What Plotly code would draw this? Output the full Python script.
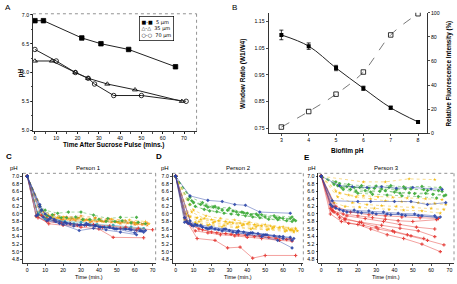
import plotly.graph_objects as go

W, H = 457, 284

# ---------------- Panel A data ----------------
A_t_5 = [0, 4, 22, 31, 44, 66]
A_ph_5 = [6.9, 6.9, 6.6, 6.5, 6.4, 6.1]
A_t_35 = [0, 8, 19, 25, 34, 47, 69]
A_ph_35 = [6.2, 6.2, 6.0, 5.9, 5.8, 5.7, 5.5]
A_t_70 = [0, 10, 19, 25, 28, 37, 50, 71]
A_ph_70 = [6.4, 6.2, 6.0, 5.9, 5.8, 5.6, 5.6, 5.5]
A_labels = ["5 µm", "35 µm", "70 µm"]
A_legend_glyphs = ["■-■", "△-△", "○-○"]

# ---------------- Panel B data ----------------
B_ph = [3, 4, 5, 6, 7, 8]
B_ratio = [1.100, 1.058, 0.976, 0.900, 0.827, 0.774]
B_ratio_err = [0.018, 0.012, 0.010, 0.008, 0.006, 0.005]
B_intensity = [5.1, 18.0, 32.4, 50.8, 81.6, 99.2]

# ---------------- Panel C data (Person 1) ----------------
C_green_t = [[0, 7, 10, 17, 23, 30, 37, 45, 52, 61],
             [0, 6, 11, 19, 27, 35, 44, 53, 62],
             [0, 8, 14, 22, 31, 40, 49, 58, 66]]
C_green_ph = [[7.0, 6.2, 6.1, 6.02, 6.05, 6.05, 5.97, 5.88, 5.91, 5.91],
              [7.0, 6.0, 5.95, 5.9, 5.92, 5.85, 5.8, 5.82, 5.78],
              [7.0, 6.1, 5.98, 5.9, 5.85, 5.86, 5.8, 5.76, 5.74]]
C_orange_t = [[0, 7, 12, 18, 25, 33, 41, 50, 59, 67],
              [0, 5, 10, 16, 24, 31, 39, 47, 56, 64],
              [0, 6, 13, 20, 28, 36, 44, 53, 62],
              [0, 9, 15, 22, 30, 38, 46, 55, 65],
              [0, 7, 11, 19, 27, 35, 43, 52, 60, 67]]
C_orange_ph = [[7.0, 6.05, 5.95, 5.9, 5.88, 5.85, 5.82, 5.8, 5.78, 5.76],
               [7.0, 5.92, 5.88, 5.86, 5.83, 5.84, 5.8, 5.78, 5.76, 5.72],
               [7.0, 6.0, 5.93, 5.85, 5.88, 5.8, 5.83, 5.79, 5.75],
               [7.0, 6.05, 5.98, 5.92, 5.95, 5.9, 5.86, 5.82, 5.74],
               [7.0, 5.98, 5.9, 5.85, 5.82, 5.78, 5.8, 5.75, 5.72, 5.7]]
C_yellow_t = [[0, 8, 12, 20, 29, 38, 47, 57, 66],
              [0, 6, 14, 23, 32, 41, 50, 60, 68],
              [0, 10, 17, 26, 34, 42, 51, 61]]
C_yellow_ph = [[7.0, 6.1, 5.96, 5.92, 5.9, 5.88, 5.86, 5.84, 5.8],
               [7.0, 5.95, 5.9, 5.87, 5.83, 5.82, 5.79, 5.77, 5.74],
               [7.0, 5.97, 5.9, 5.86, 5.84, 5.8, 5.77, 5.73]]
C_blue_t = [[0, 7, 10, 15, 22, 29, 33, 38, 43, 50, 60, 64],
            [0, 6, 12, 20, 29, 37, 44, 52, 61],
            [0, 8, 13, 21, 30, 38, 46, 55, 63],
            [0, 5, 11, 18, 26, 34, 41, 49, 58, 65],
            [0, 7, 9, 16, 24, 32, 40, 48, 57, 66]]
C_blue_ph = [[7.0, 6.25, 6.0, 5.85, 5.75, 5.7, 5.75, 5.7, 5.65, 5.6, 5.5, 5.55],
             [7.0, 5.98, 5.85, 5.72, 5.56, 5.62, 5.58, 5.52, 5.45],
             [7.0, 6.1, 5.9, 5.78, 5.72, 5.68, 5.65, 5.6, 5.55],
             [7.0, 5.95, 5.82, 5.75, 5.68, 5.72, 5.65, 5.6, 5.58, 5.52],
             [7.0, 6.2, 5.92, 5.8, 5.74, 5.7, 5.66, 5.62, 5.6, 5.56]]
C_red_t = [[0, 5, 12, 20, 30, 40, 48, 65],
           [0, 6, 11, 19, 28, 37, 46, 55, 62, 70],
           [0, 8, 15, 24, 33, 42, 52, 61]]
C_red_ph = [[7.0, 5.95, 5.74, 5.7, 5.65, 5.6, 5.38, 5.37],
            [7.0, 5.9, 5.8, 5.76, 5.7, 5.72, 5.68, 5.65, 5.62, 5.58],
            [7.0, 5.96, 5.82, 5.74, 5.7, 5.64, 5.62, 5.57]]
C_teal_t = [[0, 7, 13, 21, 30, 39, 48, 58, 65],
            [0, 6, 10, 18, 26, 35, 45, 54, 63]]
C_teal_ph = [[7.0, 6.05, 5.9, 5.8, 5.78, 5.72, 5.7, 5.66, 5.62],
             [7.0, 6.0, 5.86, 5.8, 5.74, 5.7, 5.66, 5.62, 5.6]]

# ---------------- Panel D data (Person 2) ----------------
D_green_t = [[0, 8, 15, 22, 30, 37, 45, 55, 65],
             [0, 9, 17, 24, 32, 40, 48, 58, 66],
             [0, 10, 18, 26, 34, 42, 50, 60, 67],
             [0, 8, 16, 23, 31, 39, 47, 57, 65],
             [0, 11, 19, 27, 35, 43, 52, 62],
             [0, 7, 14, 21, 29, 38, 46, 56, 64]]
D_green_ph = [[7.0, 6.45, 6.3, 6.2, 6.15, 6.05, 6.0, 5.95, 5.92],
              [7.0, 6.35, 6.22, 6.15, 6.08, 6.02, 5.98, 5.9, 5.85],
              [7.0, 6.3, 6.18, 6.1, 6.05, 5.98, 5.92, 5.88, 5.82],
              [7.0, 6.25, 6.12, 6.06, 6.0, 5.95, 5.9, 5.85, 5.8],
              [7.0, 6.2, 6.08, 6.02, 5.98, 5.92, 5.86, 5.82],
              [7.0, 6.38, 6.25, 6.18, 6.1, 6.03, 5.96, 5.9, 5.88]]
D_yellow_t = [[0, 6, 12, 20, 28, 36, 44, 53, 63, 67],
              [0, 7, 14, 22, 30, 38, 46, 55, 65],
              [0, 9, 16, 24, 32, 40, 48, 58, 66],
              [0, 5, 11, 19, 27, 35, 43, 52, 62, 68],
              [0, 8, 13, 21, 29, 37, 45, 54, 64],
              [0, 10, 17, 25, 33, 41, 50, 60, 67],
              [0, 6, 12, 18, 26, 34, 42, 51, 61, 66]]
D_yellow_ph = [[7.0, 6.0, 5.9, 5.85, 5.8, 5.76, 5.72, 5.68, 5.62, 5.6],
               [7.0, 5.95, 5.85, 5.8, 5.78, 5.72, 5.7, 5.65, 5.58],
               [7.0, 6.05, 5.88, 5.82, 5.76, 5.74, 5.68, 5.64, 5.55],
               [7.0, 5.85, 5.78, 5.72, 5.7, 5.66, 5.62, 5.6, 5.56, 5.55],
               [7.0, 5.92, 5.8, 5.77, 5.74, 5.7, 5.66, 5.62, 5.58],
               [7.0, 6.1, 5.95, 5.88, 5.84, 5.78, 5.72, 5.66, 5.62],
               [7.0, 5.82, 5.74, 5.7, 5.66, 5.64, 5.6, 5.58, 5.54, 5.52]]
D_blue_t = [[0, 8, 18, 26, 33, 39, 47, 64],
            [0, 5, 8, 14, 20, 28, 35, 42, 50, 60, 65],
            [0, 6, 9, 15, 22, 30, 38, 46, 55, 64],
            [0, 7, 10, 17, 24, 32, 40, 48, 57, 65],
            [0, 5, 11, 18, 26, 34, 41, 49, 58, 66],
            [0, 8, 12, 19, 27, 35, 43, 51, 60]]
D_blue_ph = [[7.0, 6.48, 6.36, 6.33, 6.25, 6.23, 6.05, 6.02],
             [7.0, 5.9, 5.75, 5.7, 5.65, 5.6, 5.55, 5.5, 5.45, 5.35, 5.3],
             [7.0, 5.8, 5.7, 5.65, 5.6, 5.56, 5.52, 5.48, 5.42, 5.38],
             [7.0, 5.75, 5.68, 5.62, 5.58, 5.52, 5.45, 5.4, 5.3, 5.1],
             [7.0, 5.78, 5.72, 5.6, 5.55, 5.5, 5.48, 5.44, 5.4, 5.35],
             [7.0, 5.82, 5.7, 5.62, 5.6, 5.54, 5.5, 5.45, 5.4]]
D_red_t = [[0, 5, 12, 22, 29, 36, 43, 50, 67],
           [0, 6, 11, 18, 25, 33, 40, 48, 58, 65],
           [0, 7, 13, 20, 28, 35, 44, 52, 62],
           [0, 9, 15, 23, 31, 39, 47, 56, 64]]
D_red_ph = [[7.0, 5.9, 5.35, 5.3, 5.1, 5.12, 4.83, 4.9, 4.9],
            [7.0, 5.8, 5.55, 5.5, 5.45, 5.42, 5.38, 5.35, 5.3, 5.28],
            [7.0, 5.75, 5.6, 5.52, 5.48, 5.45, 5.4, 5.38, 5.32],
            [7.0, 5.7, 5.58, 5.5, 5.46, 5.44, 5.42, 5.36, 5.34]]

# ---------------- Panel E data (Person 3) ----------------
E_yellow_t = [[0, 23, 35, 48, 62],
              [0, 8, 15, 23, 31, 39, 47, 57, 66],
              [0, 9, 17, 25, 33, 41, 50, 60, 67],
              [0, 7, 13, 21, 29, 37, 45, 55, 65],
              [0, 10, 19, 27, 35, 44, 53, 62, 68]]
E_yellow_ph = [[7.0, 6.85, 6.85, 6.93, 6.91],
               [7.0, 6.6, 6.5, 6.48, 6.45, 6.44, 6.42, 6.4, 6.38],
               [7.0, 6.45, 6.3, 6.25, 6.22, 6.2, 6.18, 6.15, 6.12],
               [7.0, 6.3, 6.2, 6.18, 6.15, 6.12, 6.1, 6.08, 6.02],
               [7.0, 6.55, 6.45, 6.4, 6.35, 6.33, 6.3, 6.28, 6.25]]
E_green_t = [[0, 8, 15, 22, 30, 38, 45, 55, 65],
             [0, 10, 18, 26, 33, 41, 49, 58, 66],
             [0, 9, 16, 24, 32, 40, 48, 57, 68],
             [0, 11, 19, 27, 35, 43, 51, 61, 67],
             [0, 7, 14, 21, 29, 37, 46, 56, 64],
             [0, 12, 20, 28, 36, 44, 53, 63]]
E_green_ph = [[7.0, 6.85, 6.78, 6.75, 6.74, 6.75, 6.72, 6.73, 6.7],
              [7.0, 6.8, 6.7, 6.68, 6.66, 6.64, 6.66, 6.62, 6.6],
              [7.0, 6.75, 6.65, 6.62, 6.6, 6.58, 6.56, 6.55, 6.5],
              [7.0, 6.7, 6.6, 6.58, 6.62, 6.55, 6.54, 6.52, 6.48],
              [7.0, 6.78, 6.72, 6.7, 6.68, 6.7, 6.67, 6.65, 6.62],
              [7.0, 6.65, 6.55, 6.52, 6.5, 6.48, 6.46, 6.42]]
E_blue_t = [[0, 6, 20, 27, 40, 49, 58, 68],
            [0, 10, 17, 25, 33, 41, 50, 60, 66],
            [0, 5, 10, 18, 26, 34, 42, 51, 62],
            [0, 6, 12, 20, 28, 36, 44, 53, 63],
            [0, 8, 14, 22, 30, 38, 46, 55, 65]]
E_blue_ph = [[7.0, 6.35, 6.33, 6.33, 6.33, 6.33, 6.25, 6.3],
             [7.0, 6.75, 6.72, 6.7, 6.72, 6.68, 6.7, 6.66, 6.65],
             [7.0, 6.25, 6.12, 6.1, 6.08, 6.05, 6.02, 6.0, 5.95],
             [7.0, 6.2, 6.08, 6.05, 6.03, 6.0, 5.98, 5.96, 5.9],
             [7.0, 6.15, 6.05, 6.03, 6.0, 5.98, 5.96, 5.95, 5.92]]
E_red_t = [[0, 5, 9, 13, 22, 33, 43, 53, 62],
           [0, 6, 10, 15, 23, 31, 40, 49, 58, 67],
           [0, 5, 11, 20, 27, 36, 45, 55, 65],
           [0, 7, 12, 20, 28, 35, 42, 50, 63],
           [0, 6, 14, 24, 34, 43, 52, 62],
           [0, 8, 16, 26, 35, 44, 54, 64],
           [0, 7, 13, 21, 30, 39, 47, 56]]
E_red_ph = [[7.0, 6.15, 6.0, 5.85, 5.78, 5.7, 5.62, 5.55, 5.4],
            [7.0, 6.08, 5.9, 5.75, 5.7, 5.6, 5.52, 5.42, 5.3, 5.18],
            [7.0, 6.0, 5.8, 5.72, 5.6, 5.45, 5.35, 5.2, 5.0],
            [7.0, 6.18, 6.0, 5.95, 5.9, 5.86, 5.82, 5.8, 5.85],
            [7.0, 6.1, 5.95, 5.88, 5.8, 5.72, 5.65, 5.6],
            [7.0, 6.2, 6.05, 5.98, 5.95, 5.92, 5.9, 5.88],
            [7.0, 6.05, 5.88, 5.78, 5.65, 5.55, 5.45, 5.35]]

# ---------------- helpers ----------------
FONT = "Liberation Sans, Arial, sans-serif"


def px(x):
    return x / W


def py(y):
    return 1 - y / H


fig = go.Figure()

# Panel A
A_styles = ["square", "triangle-up-open", "circle-open"]
for (t, v), lab, sym in zip([(A_t_5, A_ph_5), (A_t_35, A_ph_35), (A_t_70, A_ph_70)],
                            A_labels, A_styles):
    fig.add_trace(go.Scatter(x=t, y=v, name=lab, mode="lines+markers",
                             line=dict(color="#222", width=1),
                             marker=dict(symbol=sym, size=4.5, color="black",
                                         line=dict(color="black", width=0.8)),
                             xaxis="x", yaxis="y", showlegend=False))

# Panel B
fig.add_trace(go.Scatter(x=B_ph, y=B_ratio, mode="lines+markers",
                         line=dict(color="#222", width=1, shape="spline"),
                         marker=dict(symbol="square", size=4, color="black"),
                         error_y=dict(type="data", array=B_ratio_err, color="black",
                                      thickness=0.8, width=2),
                         xaxis="x2", yaxis="y2", showlegend=False))
fig.add_trace(go.Scatter(x=B_ph, y=B_intensity, mode="lines+markers",
                         line=dict(color="#555", width=0.8, shape="spline", dash="dash"),
                         marker=dict(symbol="square-open", size=4.5, color="black",
                                     line=dict(width=0.8)),
                         xaxis="x2", yaxis="y3", showlegend=False))

COLORS = {"green": "#3aa935", "yellow": "#f2b705", "orange": "#f08a1c",
          "blue": "#2a45a8", "red": "#e4302b", "teal": "#2aa7b8"}
SYMB = {"green": "diamond", "yellow": "star", "orange": "star",
        "blue": "diamond", "red": "cross", "teal": "circle"}
DASH = {"green": "dot", "yellow": "dot", "orange": "dot",
        "blue": "solid", "red": "solid", "teal": "solid"}


def add_group(ts, vs, grp, xa, ya):
    for t, v in zip(ts, vs):
        fig.add_trace(go.Scatter(x=t, y=v, mode="lines+markers",
                                 line=dict(color=COLORS[grp], width=0.5, dash=DASH[grp]),
                                 marker=dict(symbol=SYMB[grp], size=2.8, color=COLORS[grp],
                                             line=dict(width=0)),
                                 xaxis=xa, yaxis=ya, showlegend=False, opacity=0.9))


add_group(C_yellow_t, C_yellow_ph, "yellow", "x3", "y4")
add_group(C_orange_t, C_orange_ph, "orange", "x3", "y4")
add_group(C_green_t, C_green_ph, "green", "x3", "y4")
add_group(C_teal_t, C_teal_ph, "teal", "x3", "y4")
add_group(C_red_t, C_red_ph, "red", "x3", "y4")
add_group(C_blue_t, C_blue_ph, "blue", "x3", "y4")

add_group(D_green_t, D_green_ph, "green", "x4", "y5")
add_group(D_yellow_t, D_yellow_ph, "yellow", "x4", "y5")
add_group(D_red_t, D_red_ph, "red", "x4", "y5")
add_group(D_blue_t, D_blue_ph, "blue", "x4", "y5")

add_group(E_green_t, E_green_ph, "green", "x5", "y6")
add_group(E_yellow_t, E_yellow_ph, "yellow", "x5", "y6")
add_group(E_red_t, E_red_ph, "red", "x5", "y6")
add_group(E_blue_t, E_blue_ph, "blue", "x5", "y6")

tickfont = dict(family=FONT, size=5.2, color="black")
base_ax = dict(showgrid=False, zeroline=False, showline=True, linecolor="black",
               linewidth=0.8, ticks="outside", ticklen=2, tickwidth=0.7,
               tickcolor="black", tickfont=tickfont)

# domains in pixel coords
A_dom_x = [px(33), px(197)]
A_dom_y = [py(131), py(11)]
B_dom_x = [px(269), px(428)]
B_dom_y = [py(133), py(10)]
C_dom_x = [px(23), px(156)]
D_dom_x = [px(173), px(304)]
E_dom_x = [px(319), px(455)]
CDE_dom_y = [py(266), py(174)]

ph_ticks = [4.8 + 0.2 * i for i in range(12)]

fig.update_layout(
    width=W, height=H, margin=dict(l=0, r=0, t=0, b=0), autosize=False,
    paper_bgcolor="white", plot_bgcolor="white", showlegend=False,
    font=dict(family=FONT, size=6, color="black"),
    xaxis=dict(base_ax, domain=A_dom_x, range=[-0.94, 75.9], tickvals=list(range(0, 80, 10)),
               minor=dict(dtick=5, ticklen=1.5, ticks="outside", tickcolor="black"),
               anchor="y"),
    yaxis=dict(base_ax, domain=A_dom_y, range=[4.98, 7.02], tickvals=[5.0, 5.5, 6.0, 6.5, 7.0],
               tickformat=".1f", anchor="x",
               minor=dict(dtick=0.25, ticklen=1.5, ticks="outside", tickcolor="black")),
    xaxis2=dict(base_ax, domain=B_dom_x, range=[2.526, 8.33], tickvals=B_ph, anchor="y2"),
    yaxis2=dict(base_ax, domain=B_dom_y, range=[0.7317, 1.183],
                tickvals=[0.75, 0.85, 0.95, 1.05, 1.15], tickformat=".2f", anchor="x2"),
    yaxis3=dict(base_ax, domain=B_dom_y, range=[0, 100], overlaying="y2", side="right",
                tickvals=[0, 20, 40, 60, 80, 100], anchor="x2"),
    xaxis3=dict(base_ax, domain=C_dom_x, range=[-2.4, 71.7], tickvals=list(range(0, 80, 10)), anchor="y4"),
    yaxis4=dict(base_ax, domain=CDE_dom_y, range=[4.69, 7.077], tickvals=ph_ticks,
                tickformat=".1f", anchor="x3"),
    xaxis4=dict(base_ax, domain=D_dom_x, range=[-1.67, 71.3], tickvals=list(range(0, 80, 10)), anchor="y5"),
    yaxis5=dict(base_ax, domain=CDE_dom_y, range=[4.69, 7.077], tickvals=ph_ticks,
                tickformat=".1f", anchor="x4"),
    xaxis5=dict(base_ax, domain=E_dom_x, range=[-1.6, 72.5], tickvals=list(range(0, 80, 10)), anchor="y6"),
    yaxis6=dict(base_ax, domain=CDE_dom_y, range=[4.69, 7.077], tickvals=ph_ticks,
                tickformat=".1f", anchor="x5"),
)

# dotted top / right borders for A, C, D, E
shapes = []
for (x0, x1), (y0, y1) in [((33, 197), (11, 131)), ((23, 156), (174, 266)),
                           ((173, 304), (174, 266)), ((319, 455), (174, 266))]:
    shapes.append(dict(type="line", xref="paper", yref="paper", x0=px(x0), x1=px(x1),
                       y0=py(y0), y1=py(y0), line=dict(color="#777", width=0.8, dash="dot")))
    shapes.append(dict(type="line", xref="paper", yref="paper", x0=px(x1), x1=px(x1),
                       y0=py(y0), y1=py(y1), line=dict(color="#777", width=0.8, dash="dot")))
fig.update_layout(shapes=shapes)


def ann(text, x, y, size=6, bold=False, angle=0, xanchor="center", yanchor="middle", **kw):
    t = "<b>%s</b>" % text if bold else text
    fig.add_annotation(text=t, x=px(x), y=py(y), xref="paper", yref="paper",
                       showarrow=False, textangle=angle, xanchor=xanchor, yanchor=yanchor,
                       font=dict(family=FONT, size=size, color="black"), **kw)


# legend for panel A (text box)
legend_text = "<br>".join("%s  %s" % (g, l) for g, l in zip(A_legend_glyphs, A_labels))
fig.add_annotation(text=legend_text, x=px(139), y=py(13), xref="paper", yref="paper",
                   showarrow=False, xanchor="left", yanchor="top", align="left",
                   bgcolor="white", bordercolor="black", borderwidth=0.7, borderpad=1.8,
                   font=dict(family="DejaVu Sans, sans-serif", size=5, color="black"))

ann("A", 3, 5, size=8, xanchor="left")
ann("B", 231, 5, size=8, xanchor="left")
ann("C", 4, 157, size=8, bold=True, xanchor="left")
ann("D", 154, 157, size=8, bold=True, xanchor="left")
ann("E", 303, 158, size=8, bold=True, xanchor="left")

ann("pH", 21, 71, size=6.5, bold=True, angle=-90)
ann("Time After Sucrose Pulse (mins.)", 114, 145.5, size=6.5, bold=True)
ann("Window Ratio (W1/W4)", 244, 72, size=6.5, bold=True, angle=-90)
ann("Relative Fluorescence Intensity (%)", 450, 72, size=6.3, bold=True, angle=-90)
ann("Biofilm pH", 348, 151, size=6.5, bold=True)

for cx, left, title in [(89, 14, "Person 1"), (239, 165, "Person 2"), (387, 313, "Person 3")]:
    ann(title, cx, 169, size=6)
    ann("pH", left, 169, size=6)
    ann("Time (min.)", cx, 284, size=5.5, yanchor="bottom", borderpad=0)

fig.write_html("out.html", config={"displayModeBar": False, "staticPlot": True},
               post_script="document.body.style.margin='0px';document.body.style.overflow='hidden';")
